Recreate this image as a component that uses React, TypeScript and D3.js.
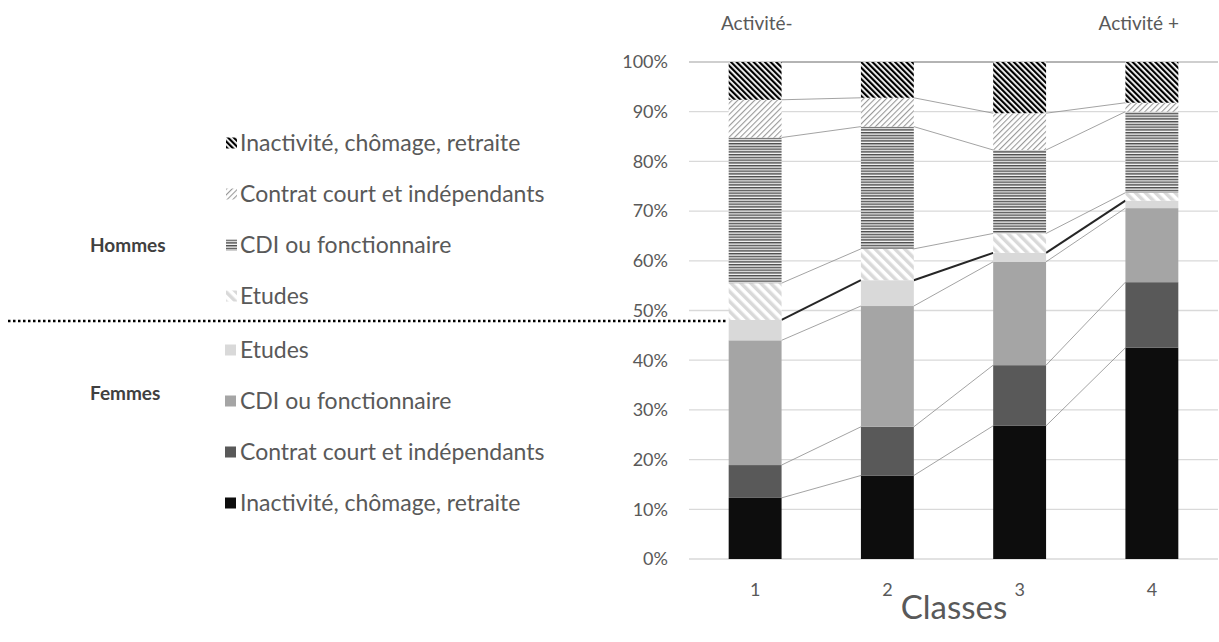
import React from 'react';
import * as d3 from 'd3';

const classes = ['1', '2', '3', '4'];
const femmesInactivite = [12.3, 16.8, 26.8, 42.5];
const femmesContrat = [6.6, 9.8, 12.2, 13.2];
const femmesCDI = [25.1, 24.3, 20.8, 14.9];
const femmesEtudes = [4.1, 5.2, 1.8, 1.5];
const hommesEtudes = [7.4, 6.3, 3.9, 1.6];
const hommesCDI = [29.3, 24.6, 16.8, 16.3];
const hommesContrat = [7.6, 5.8, 7.4, 1.8];
const hommesInactivite = [7.6, 7.2, 10.3, 8.2];
const yTicks = [0, 10, 20, 30, 40, 50, 60, 70, 80, 90, 100];

const seriesKeys = ['fInact', 'fContrat', 'fCDI', 'fEtudes', 'hEtudes', 'hCDI', 'hContrat', 'hInact'];
const seriesValues: Record<string, number[]> = {
  fInact: femmesInactivite,
  fContrat: femmesContrat,
  fCDI: femmesCDI,
  fEtudes: femmesEtudes,
  hEtudes: hommesEtudes,
  hCDI: hommesCDI,
  hContrat: hommesContrat,
  hInact: hommesInactivite,
};
const fills: Record<string, string> = {
  fInact: '#0d0d0d',
  fContrat: '#595959',
  fCDI: '#a5a5a5',
  fEtudes: '#d9d9d9',
  hEtudes: 'url(#pEtudes)',
  hCDI: 'url(#pCDI)',
  hContrat: 'url(#pContrat)',
  hInact: 'url(#pInact)',
};
const hommesLegend = [
  { key: 'hInact', label: 'Inactivité, chômage, retraite' },
  { key: 'hContrat', label: 'Contrat court et indépendants' },
  { key: 'hCDI', label: 'CDI ou fonctionnaire' },
  { key: 'hEtudes', label: 'Etudes' },
];
const femmesLegend = [
  { key: 'fEtudes', label: 'Etudes' },
  { key: 'fCDI', label: 'CDI ou fonctionnaire' },
  { key: 'fContrat', label: 'Contrat court et indépendants' },
  { key: 'fInact', label: 'Inactivité, chômage, retraite' },
];

const W = 1219;
const H = 642;
const FONT = 'Lato, "Open Sans", sans-serif';

export default function App() {
  const table = classes.map((c, i) => {
    const row: Record<string, any> = { classe: c };
    seriesKeys.forEach((k) => (row[k] = seriesValues[k][i]));
    return row;
  });
  const stack = d3.stack<any>().keys(seriesKeys)(table);

  const x = d3.scaleBand<string>().domain(classes).range([689, 1218]).paddingInner(0.6).paddingOuter(0.3);
  const y = d3.scaleLinear().domain([0, 100]).range([559, 62]);
  const bw = x.bandwidth();

  const legendYH = [143, 194, 245, 296];
  const legendYF = [350, 401, 452, 503];

  return (
    <svg width={W} height={H} style={{ position: 'absolute', left: 0, top: 0, background: '#fff' }} fontFamily={FONT}>
      <defs>
        <pattern id="pInact" patternUnits="userSpaceOnUse" width={4} height={4} patternTransform="rotate(-45)">
          <rect width={4} height={4} fill="#fff" />
          <rect width={2.2} height={4} fill="#000" />
        </pattern>
        <pattern id="pContrat" patternUnits="userSpaceOnUse" width={4} height={4} patternTransform="rotate(45)">
          <rect width={4} height={4} fill="#fff" />
          <rect width={1.1} height={4} fill="#9a9a9a" />
        </pattern>
        <pattern id="pCDI" patternUnits="userSpaceOnUse" width={4} height={2.75}>
          <rect width={4} height={2.75} fill="#f4f4f4" />
          <rect width={4} height={1.4} fill="#4d4d4d" />
        </pattern>
        <pattern id="pEtudes" patternUnits="userSpaceOnUse" width={7} height={7} patternTransform="rotate(-45)">
          <rect width={7} height={7} fill="#fff" />
          <rect width={3.5} height={7} fill="#d9d9d9" />
        </pattern>
      </defs>

      {/* gridlines */}
      {yTicks.map((t) => (
        <line key={t} x1={689} x2={1218} y1={y(t)} y2={y(t)} stroke={t === 100 ? '#bfbfbf' : '#d9d9d9'} strokeWidth={1.3} />
      ))}
      {/* y tick labels */}
      {yTicks.map((t) => (
        <text key={t} x={668} y={y(t)} dy="0.35em" textAnchor="end" fontSize={18} fill="#595959">
          {t}%
        </text>
      ))}

      {/* series lines */}
      {stack.map((s, k) =>
        classes.slice(0, -1).map((c, i) => (
          <line
            key={`${k}-${i}`}
            x1={(x(c) as number) + bw}
            x2={x(classes[i + 1]) as number}
            y1={y(s[i][1])}
            y2={y(s[i + 1][1])}
            stroke={seriesKeys[k] === 'fEtudes' ? '#262626' : '#8c8c8c'}
            strokeWidth={seriesKeys[k] === 'fEtudes' ? 2 : 0.8}
          />
        ))
      )}

      {/* bars */}
      {stack.map((s, k) =>
        s.map((d, i) => (
          <rect
            key={`${k}-${i}`}
            x={x(classes[i])}
            y={y(d[1])}
            width={bw}
            height={y(d[0]) - y(d[1])}
            fill={fills[seriesKeys[k]]}
          />
        ))
      )}

      {/* x tick labels */}
      {classes.map((c) => (
        <text key={c} x={(x(c) as number) + bw / 2} y={590} dy="0.35em" textAnchor="middle" fontSize={18} fill="#595959">
          {c}
        </text>
      ))}
      <text x={954} y={607} dy="0.35em" textAnchor="middle" fontSize={33} fill="#595959">
        Classes
      </text>

      <text x={721} y={23} dy="0.35em" fontSize={19} fill="#595959">Activité-</text>
      <text x={1179} y={23} dy="0.35em" textAnchor="end" fontSize={19} fill="#595959">Activité +</text>

      {/* dotted separator */}
      <line x1={8} x2={726} y1={321} y2={321} stroke="#000" strokeWidth={2.5} strokeDasharray="2.5 2.5" />

      {/* group labels */}
      <text x={90} y={245} dy="0.35em" fontSize={19} fontWeight="bold" fill="#404040">Hommes</text>
      <text x={90} y={393} dy="0.35em" fontSize={19} fontWeight="bold" fill="#404040">Femmes</text>

      {/* legend */}
      {hommesLegend.map((l, i) => (
        <g key={l.key} transform={`translate(0,${legendYH[i]})`}>
          <rect x={226} y={-5.5} width={11} height={11} fill={fills[l.key]} />
          <text x={240} dy="0.35em" fontSize={23} fill="#595959">{l.label}</text>
        </g>
      ))}
      {femmesLegend.map((l, i) => (
        <g key={l.key} transform={`translate(0,${legendYF[i]})`}>
          <rect x={225} y={-5.5} width={11} height={11} fill={fills[l.key]} />
          <text x={240} dy="0.35em" fontSize={23} fill="#595959">{l.label}</text>
        </g>
      ))}
    </svg>
  );
}
